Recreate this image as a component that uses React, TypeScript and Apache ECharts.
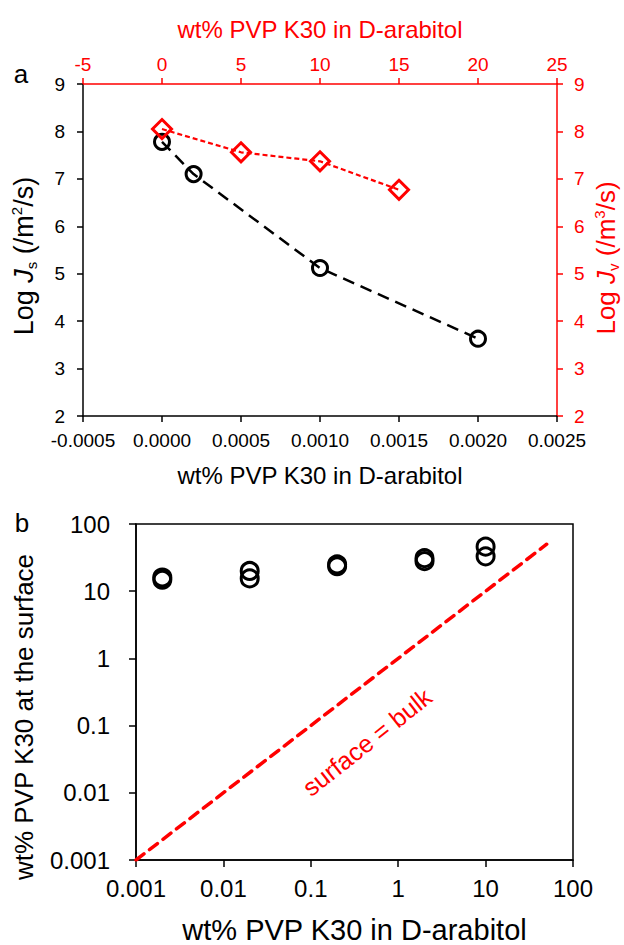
import React, { useEffect, useRef } from "react";
import * as echarts from "echarts";

// ---- Panel a data ----
const jsX = [0, 0.0002, 0.001, 0.002]; // wt% PVP K30 (bottom axis)
const jsY = [7.78, 7.1, 5.12, 3.63]; // Log Js
const jvX = [0, 5, 10, 15]; // wt% PVP K30 (top axis)
const jvY = [8.05, 7.56, 7.37, 6.77]; // Log Jv

// ---- Panel b data ----
const bulkX = [0.002, 0.002, 0.02, 0.02, 0.2, 0.2, 2, 2, 10, 10];
const surfaceY = [14.8, 16, 15.5, 20, 23.5, 25, 28, 31, 33, 46];
const idealX = [0.001, 50];
const idealY = [0.001, 50];

const FONT = "'Liberation Sans', Arial, sans-serif";
const RED = "#ff0000";
const BLACK = "#000000";

const fmtLog = (v: number) => String(parseFloat(Number(v).toPrecision(3)));

export default function App() {
  const ref = useRef<HTMLDivElement>(null);
  useEffect(() => {
    if (!ref.current) return;
    const chart = echarts.init(ref.current, null, { renderer: "svg" });
    const axisBase = (color: string, w = 1.5, tick = 6) => ({
      axisLine: { show: true, onZero: false, lineStyle: { color, width: w } },
      axisTick: { show: true, length: tick, lineStyle: { color, width: w } },
      splitLine: { show: false },
    });
    const richTitle = (color: string, sub: string, sup: string, x: number, y: number, fs: number) => ({
      type: "text",
      x,
      y,
      rotation: Math.PI / 2,
      style: {
        text: `{t|Log }{i|J}{s|${sub}}{t| (/m}{p|${sup}}{t|/s)}`,
        fill: color,
        fontSize: fs,
        fontFamily: FONT,
        align: "center",
        verticalAlign: "middle",
        rich: {
          t: { fill: color, fontSize: fs, fontFamily: FONT, lineHeight: fs + 3 },
          i: { fill: color, fontSize: fs, fontFamily: FONT, fontStyle: "italic", lineHeight: fs + 3 },
          s: { fill: color, fontSize: 15, fontFamily: FONT, verticalAlign: "bottom", lineHeight: fs + 3 },
          p: { fill: color, fontSize: 15, fontFamily: FONT, verticalAlign: "top", lineHeight: fs + 3 },
        },
      },
    });
    const option: any = {
      animation: false,
      textStyle: { fontFamily: FONT },
      grid: [
        { left: 83, top: 84, width: 474, height: 332, show: false },
        {
          left: 136,
          top: 524,
          width: 437,
          height: 345,
          show: true,
          borderColor: BLACK,
          borderWidth: 1.5,
          backgroundColor: "transparent",
        },
      ],
      xAxis: [
        {
          gridIndex: 0,
          type: "value",
          position: "bottom",
          min: -0.0005,
          max: 0.0025,
          interval: 0.0005,
          ...axisBase(BLACK),
          axisLabel: {
            color: BLACK,
            fontSize: 19,
            margin: 15,
            formatter: (v: number) => Number(v).toFixed(4),
          },
          name: "wt% PVP K30 in D-arabitol",
          nameLocation: "middle",
          nameGap: 47,
          nameTextStyle: { color: BLACK, fontSize: 24, fontFamily: FONT },
        },
        {
          gridIndex: 0,
          type: "value",
          position: "top",
          min: -5,
          max: 25,
          interval: 5,
          ...axisBase(RED),
          axisLabel: { color: RED, fontSize: 19, margin: 10 },
          name: "wt% PVP K30 in D-arabitol",
          nameLocation: "middle",
          nameGap: 43,
          nameTextStyle: { color: RED, fontSize: 24, fontFamily: FONT },
        },
        {
          gridIndex: 1,
          type: "log",
          logBase: 10,
          min: 0.001,
          max: 100,
          position: "bottom",
          ...axisBase(BLACK, 1.5, 7),
          minorTick: { show: false },
          axisLabel: { color: BLACK, fontSize: 24, margin: 16, formatter: fmtLog },
          name: "wt% PVP K30 in D-arabitol",
          nameLocation: "middle",
          nameGap: 55,
          nameTextStyle: { color: BLACK, fontSize: 29, fontFamily: FONT },
        },
      ],
      yAxis: [
        {
          gridIndex: 0,
          type: "value",
          position: "left",
          min: 2,
          max: 9,
          interval: 1,
          ...axisBase(BLACK),
          axisLabel: { color: BLACK, fontSize: 19, margin: 18 },
        },
        {
          gridIndex: 0,
          type: "value",
          position: "right",
          min: 2,
          max: 9,
          interval: 1,
          ...axisBase(RED),
          axisLabel: { color: RED, fontSize: 19, margin: 17 },
        },
        {
          gridIndex: 1,
          type: "log",
          logBase: 10,
          min: 0.001,
          max: 100,
          position: "left",
          ...axisBase(BLACK, 1.5, 7),
          minorTick: { show: false },
          axisLabel: { color: BLACK, fontSize: 24, margin: 26, formatter: fmtLog },
        },
      ],
      series: [
        {
          type: "line",
          xAxisIndex: 0,
          yAxisIndex: 0,
          data: jsX.map((x, i) => [x, jsY[i]]),
          smooth: false,
          symbol: "circle",
          symbolSize: 15,
          itemStyle: { color: "rgba(0,0,0,0)", borderColor: BLACK, borderWidth: 3 },
          lineStyle: { color: BLACK, width: 2.5, type: [12, 7] },
          z: 3,
        },
        {
          type: "line",
          xAxisIndex: 1,
          yAxisIndex: 1,
          data: jvX.map((x, i) => [x, jvY[i]]),
          symbol: "diamond",
          symbolSize: 19,
          itemStyle: { color: "rgba(0,0,0,0)", borderColor: RED, borderWidth: 3 },
          lineStyle: { color: RED, width: 2.2, type: [5, 3] },
          z: 4,
        },
        {
          type: "line",
          xAxisIndex: 2,
          yAxisIndex: 2,
          data: idealX.map((x, i) => [x, idealY[i]]),
          symbol: "none",
          lineStyle: { color: RED, width: 3.5, type: [10, 7], cap: "round" },
          z: 2,
        },
        {
          type: "scatter",
          xAxisIndex: 2,
          yAxisIndex: 2,
          data: bulkX.map((x, i) => [x, surfaceY[i]]),
          symbol: "circle",
          symbolSize: 17,
          itemStyle: { color: "rgba(0,0,0,0)", borderColor: BLACK, borderWidth: 3, opacity: 1 },
          z: 3,
        },
      ],
      graphic: [
        {
          type: "text",
          x: 21,
          y: 74,
          style: { text: "a", fill: BLACK, fontSize: 26, fontFamily: FONT, align: "center", verticalAlign: "middle" },
        },
        {
          type: "text",
          x: 22,
          y: 523,
          style: { text: "b", fill: BLACK, fontSize: 26, fontFamily: FONT, align: "center", verticalAlign: "middle" },
        },
        richTitle(BLACK, "s", "2", 24, 256, 27),
        richTitle(RED, "v", "3", 606, 258, 26),
        {
          type: "text",
          x: 24,
          y: 717,
          rotation: Math.PI / 2,
          style: {
            text: "wt% PVP K30 at the surface",
            fill: BLACK,
            fontSize: 26,
            fontFamily: FONT,
            align: "center",
            verticalAlign: "middle",
          },
        },
        {
          type: "text",
          x: 367,
          y: 742,
          rotation: 0.67,
          style: {
            text: "surface = bulk",
            fill: RED,
            fontSize: 25,
            fontFamily: FONT,
            align: "center",
            verticalAlign: "middle",
          },
        },
      ],
    };
    chart.setOption(option);
    return () => chart.dispose();
  }, []);
  return (
    <div
      ref={ref}
      style={{ position: "absolute", left: 0, top: 0, width: 624, height: 945, background: "#fff" }}
    />
  );
}
